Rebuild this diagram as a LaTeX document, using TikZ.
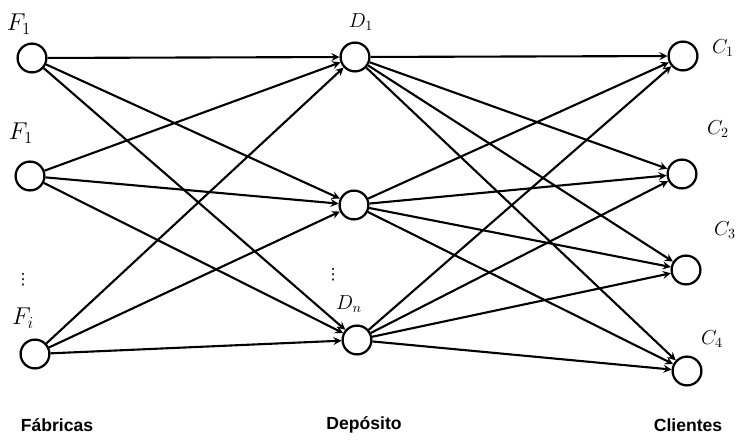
\documentclass[tikz,border=0pt]{standalone}
\usepackage{fontspec}
\setmainfont{Liberation Serif}
\setsansfont{Liberation Sans}
\newfontfamily\symfont{DejaVu Sans}
\usepackage{tikz}

\begin{document}
\begin{tikzpicture}[>=stealth, x=0.025cm, y=0.025cm,
    site/.style={circle, draw, line width=1.6pt, inner sep=0pt, minimum size=0.72cm},
    flow/.style={->, line width=1.5pt},
    tag/.style={font=\fontsize{14}{16}\selectfont},
    bigtag/.style={font=\fontsize{17}{19}\selectfont},
    dots/.style={font=\symfont\fontsize{11}{13}\selectfont},
    group/.style={font=\sffamily\bfseries\fontsize{12.5}{14}\selectfont}]
  \useasboundingbox (0,0) rectangle (736,442);
  % factories
  \node[site] (f1) at (32,384) {};
  \node[site] (f2) at (30,266) {};
  \node[site] (fi) at (35,88) {};
  \node[bigtag] (lf1) at (19,418) {$F_1$};
  \node[bigtag] (lf2) at (21,309) {$F_1$};
  \node[dots] (vf) at (23,162) {⋮};
  \node[bigtag] (lfi) at (23,124) {$F_i$};
  % depots
  \node[site] (d1) at (355,385) {};
  \node[site] (d2) at (354,237) {};
  \node[site] (dn) at (357,102) {};
  \node[tag] (ld1) at (361,420) {$D_1$};
  \node[dots] (vd) at (333,167) {⋮};
  \node[tag] (ldn) at (349,138) {$D_n$};
  % clients
  \node[site] (c1) at (683,386) {};
  \node[site] (c2) at (682,268) {};
  \node[site] (c3) at (686,172) {};
  \node[site] (c4) at (687,71) {};
  \node[tag] (lc1) at (723,394) {$C_1$};
  \node[tag] (lc2) at (718,313) {$C_2$};
  \node[tag] (lc3) at (725,212) {$C_3$};
  \node[tag] (lc4) at (712,103) {$C_4$};
  % factory -> depot
  \draw[flow] (f1) -- (d1); \draw[flow] (f1) -- (d2); \draw[flow] (f1) -- (dn);
  \draw[flow] (f2) -- (d1); \draw[flow] (f2) -- (d2); \draw[flow] (f2) -- (dn);
  \draw[flow] (fi) -- (d1); \draw[flow] (fi) -- (d2); \draw[flow] (fi) -- (dn);
  % depot -> client
  \draw[flow] (d1) -- (c1); \draw[flow] (d1) -- (c2); \draw[flow] (d1) -- (c3); \draw[flow] (d1) -- (c4);
  \draw[flow] (d2) -- (c1); \draw[flow] (d2) -- (c2); \draw[flow] (d2) -- (c3); \draw[flow] (d2) -- (c4);
  \draw[flow] (dn) -- (c1); \draw[flow] (dn) -- (c2); \draw[flow] (dn) -- (c3); \draw[flow] (dn) -- (c4);
  % column titles
  \node[group] (tf) at (57,17) {Fábricas};
  \node[group] (td) at (364,17) {Depósito};
  \node[group] (tc) at (688,17) {Clientes};
\end{tikzpicture}
\end{document}
